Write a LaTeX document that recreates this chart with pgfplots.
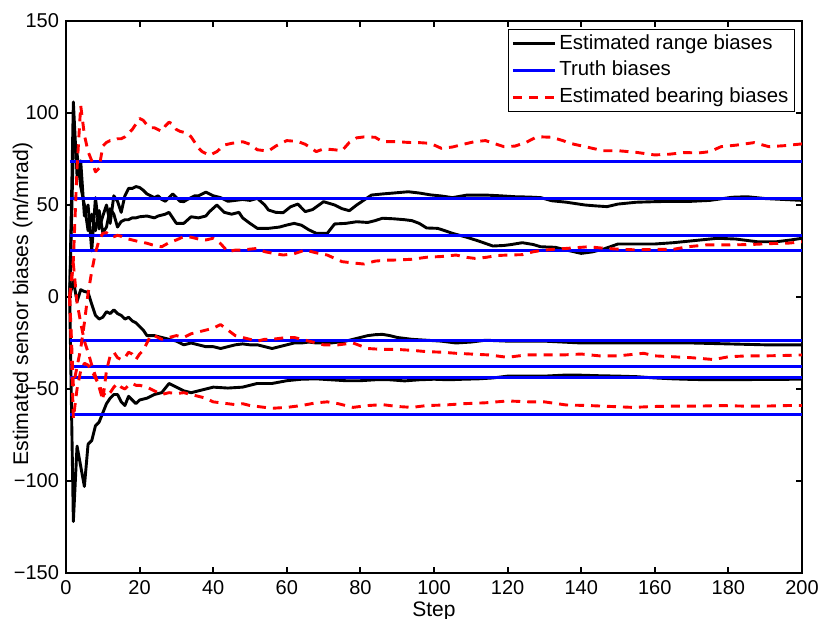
\documentclass[border=0pt]{standalone}
\usepackage{fontspec}
\setmainfont{Liberation Sans}
\usepackage{pgfplots}
\pgfplotsset{compat=1.18}

\definecolor{mred}{RGB}{255,0,0}
\definecolor{mblue}{RGB}{0,0,255}

\begin{document}
\begin{tikzpicture}
\begin{axis}[
  name=ax,
  width=368pt, height=276pt, scale only axis,
  xmin=0, xmax=200, ymin=-150, ymax=150,
  xtick={0,20,...,200},
  ytick={-150,-100,...,150},
  yticklabels={−150,−100,−50,0,50,100,150},
  tick align=inside,
  major tick length=3pt,
  axis line style={line width=1.35pt},
  every tick/.style={line width=1pt, black},
  tick label style={font=\fontsize{10}{12}\selectfont},
  /pgf/number format/assume math mode=true,
  xlabel={Step},
  ylabel={Estimated sensor biases (m/mrad)},
  xlabel style={font=\fontsize{10.5}{12}\selectfont, at={(axis description cs:0.5,0)}, anchor=north, yshift=-10.8pt},
  ylabel style={font=\fontsize{10.6}{12}\selectfont, at={(axis description cs:-0.059,0.487)}, anchor=center},
  legend style={at={(axis description cs:1,1)}, anchor=north east, xshift=-3.5pt, yshift=-4pt,
    draw=black, line width=0.6pt, font=\fontsize{10.2}{12}\selectfont,
    inner xsep=1.5pt, inner ysep=0.5pt, row sep=0pt,
    nodes={inner xsep=1.5pt, inner ysep=2pt, text height=7.4pt, text depth=1.9pt}},
  legend cell align=left,
  legend image code/.code={\draw[#1] (0pt,0pt) -- (21pt,0pt);},
  every axis plot/.append style={line width=1.45pt, line join=round},
]

% estimated range biases
\addplot[black] coordinates {
(1,0) (2,106) (3,66) (4,74) (5,44) (6,50) (7,25) (8,54) (9,37) (10,44) (11,50) (12,40) (13,55) (14,52) (15,46) (16,55) (17,59) (18,59) (19,60) (20,59.5) (21,58) (22,56) (23,55) (24,54) (25,55) (26,53) (27,52) (28,54) (29,56) (30,54) (31,52) (32,51.8) (33,53) (34,54) (35,55) (36,55) (37,56) (38,57) (39,56) (40,55) (42,54) (44,52) (46,52.5) (48,53) (50,52.5) (52,53.6) (54,50) (55,47.3) (57,46) (59,45.8) (61,49) (63,50.5) (65,46.4) (67,47.5) (70,51.8) (73,50) (75,48) (77,46.9) (79,50) (81,52.7) (83,55.4) (86,56) (89,56.5) (93,57.2) (96,56.5) (99,55.5) (102,54.9) (105,54) (109,55.4) (114,55.4) (118,55) (122,54.5) (126,54.3) (129,54) (132,52.3) (136,51.5) (141,50) (144,49.5) (147,49.1) (150,50.5) (155,51.5) (160,51.8) (165,52) (170,52) (175,52.5) (181,54.2) (185,54.5) (190,53.5) (195,53) (200,52.5)
};
\addlegendentry{Estimated range biases}
\addplot[black, forget plot] coordinates {
(1,0) (2,82) (3,78) (4,60) (5,50) (6,36) (7,45) (8,36) (9,47) (10,35) (11,38) (12,48) (13,45) (14,38) (15,41) (16,42) (17,42) (18,43) (19,43) (20,43.6) (22,44) (24,43) (25,44) (27,45) (28,46) (30,40) (32,40) (34,43.6) (36,43) (38,44) (39,46.4) (41,50) (43,46) (45,45) (47,46) (48,43) (50,40) (52,37.3) (55,37.3) (58,38) (60,39.1) (62,40) (64,39) (66,36.5) (68,34.6) (71,34.6) (73,39.7) (76,40) (79,40.9) (82,40.5) (84,41.5) (86,42.8) (89,42.5) (92,42) (94,41.5) (96,40) (98,37.5) (101,37.3) (103,36) (105,34.6) (107,33.5) (109,32.4) (112,30.5) (116,27.7) (119,28) (121,28.5) (124,29.5) (127,28.5) (129,27.3) (133,27) (136,25.5) (140,23.7) (143,24.5) (146,26) (150,28.8) (155,28.8) (160,28.8) (165,29.5) (170,30.5) (177,31.9) (182,31.5) (188,30) (193,30) (197,31) (200,31.9)
};
\addplot[black, forget plot] coordinates {
(1,0) (2,9) (3,-2.5) (4,4) (5,3) (6,2.5) (7,-4) (8,-10) (9,-12) (10,-11) (11,-8) (12,-9) (13,-7) (14,-9) (15,-10) (16,-12) (17,-11) (18,-13) (19,-14) (20,-16) (21,-18) (22,-21) (24,-21) (26,-22) (28,-23) (30,-24) (32,-26) (34,-25) (36,-26) (38,-27) (40,-27) (42,-28) (44,-27) (46,-26) (48,-25.5) (50,-26) (52,-26) (54,-27) (56,-28) (58,-27) (60,-26) (62,-25) (64,-25) (66,-24.5) (68,-25) (70,-25) (72,-25) (74,-24.5) (76,-24) (78,-23) (80,-22) (82,-21) (84,-20.5) (86,-20.3) (88,-21) (90,-22) (92,-22.5) (94,-23) (98,-23.5) (102,-24) (106,-25) (110,-24.5) (114,-23.5) (120,-24) (130,-24) (140,-25) (150,-25) (160,-25) (170,-25) (180,-25.5) (190,-26) (200,-26)
};
\addplot[black, forget plot] coordinates {
(1,0) (2,-122) (3,-81) (4,-92) (5,-103) (6,-80) (7,-78) (8,-70) (9,-68) (10,-63) (11,-58) (12,-55) (13,-53) (14,-53) (15,-57) (16,-59) (17,-54) (18,-56) (19,-58) (20,-56) (22,-55) (24,-53) (26,-52) (28,-47) (30,-49) (32,-51) (34,-52) (36,-51) (38,-50) (40,-49) (44,-49.5) (48,-49) (52,-47) (56,-47) (60,-45.5) (64,-44.7) (68,-44.5) (72,-45) (76,-45.5) (80,-45.5) (84,-45) (88,-45) (92,-45.6) (96,-45) (100,-44.7) (104,-45) (108,-44.7) (112,-44.5) (116,-44) (120,-43) (125,-43) (130,-43) (135,-42.5) (140,-42.5) (145,-42.8) (150,-43) (155,-43.3) (160,-44) (165,-44.5) (170,-44.8) (175,-45) (180,-45) (190,-44.8) (200,-44.7)
};

% truth biases
\addplot[mblue] coordinates {(1,73.5) (200,73.5)};
\addlegendentry{Truth biases}
\addplot[mblue, forget plot] coordinates {(1,53.3) (200,53.3)};
\addplot[mblue, forget plot] coordinates {(1,33.5) (200,33.5)};
\addplot[mblue, forget plot] coordinates {(1,25.2) (200,25.2)};
\addplot[mblue, forget plot] coordinates {(1,-23.8) (200,-23.8)};
\addplot[mblue, forget plot] coordinates {(1,-37.7) (200,-37.7)};
\addplot[mblue, forget plot] coordinates {(1,-43.6) (200,-43.6)};
\addplot[mblue, forget plot] coordinates {(1,-64) (200,-64)};

% estimated bearing biases
\addplot[mred, dash pattern=on 4.5pt off 3.5pt] coordinates {
(1,0) (2,20) (3,70) (4,104) (5,88) (6,79) (7,74) (8,68) (9,70) (10,82) (11,84) (12,85) (13,85) (14,86) (15,86) (16,87) (17,89) (18,91) (19,94) (20,97) (21,96) (22,93.5) (23,92) (24,92) (25,91) (26,90) (27,93) (28,95) (29,94) (30,91) (31,90) (33,89) (34,87) (35,84) (36,81) (37,79) (39,77) (41,79) (43,82.6) (45,83.5) (48,84.4) (50,83) (52,80) (55,79.3) (57,82) (60,85) (63,84.5) (65,83) (68,79) (70,80.5) (73,80) (75,79.5) (77,84) (79,86.5) (81,87) (84,86.8) (86,84.4) (90,84.4) (93,84) (96,83.9) (99,83.5) (102,80.8) (105,81.5) (108,83) (111,84.4) (114,85) (117,83) (119,81.7) (122,82) (125,84) (128,87.1) (132,86.8) (135,85) (137,83.5) (141,81.7) (146,79.5) (150,79.5) (155,78.6) (160,77.2) (164,77.6) (168,78.5) (172,78.3) (175,79) (178,81.7) (182,82.5) (187,83.9) (191,81.7) (195,82.2) (200,83.2)
};
\addlegendentry{Estimated bearing biases}
\addplot[mred, dash pattern=on 4.5pt off 3.5pt, forget plot] coordinates {
(1,0) (2,-48) (3,-38) (4,-28) (5,-14) (6,2) (7,14) (8,24) (9,31) (10,34.6) (11,35) (12,33) (13,32.8) (14,33.5) (15,33) (16,32) (17,31.5) (18,31) (19,30.5) (20,30) (22,29.2) (24,28) (26,27.3) (28,29.5) (30,31) (32,32.8) (34,32.5) (36,31.5) (38,31) (40,31.9) (42,29) (44,24.6) (46,25.5) (48,25.5) (50,26) (52,26.4) (54,24.6) (57,23.5) (59,22.8) (62,23.5) (65,25.5) (68,24) (71,22.8) (73,21) (75,19.2) (78,18.5) (81,17.9) (84,19.5) (87,20) (90,20.1) (94,20.5) (98,21.6) (102,22) (106,22.8) (109,21.5) (111,21) (114,21.5) (117,22.5) (120,22.8) (124,23) (127,24.6) (130,25.5) (133,26) (136,26.4) (142,27.3) (146,26.5) (150,26) (155,25.6) (160,25.9) (165,25.9) (169,27.3) (174,28.3) (180,28.3) (186,28.5) (191,29) (196,29.2) (200,30)
};
\addplot[mred, dash pattern=on 4.5pt off 3.5pt, forget plot] coordinates {
(1,0) (2,18) (3,-3) (4,-14) (5,-24) (6,-30) (7,-37) (8,-43) (9,-49) (10,-56) (11,-40) (12,-32) (13,-30) (14,-33) (15,-34) (16,-33) (17,-30) (18,-31) (19,-34) (20,-31) (21,-29) (22,-25) (23,-21) (24,-21) (26,-23) (28,-22) (30,-21) (32,-22) (34,-20) (36,-19) (38,-18) (40,-17) (42,-15) (44,-18) (46,-21) (48,-22) (50,-23) (52,-24) (54,-23) (56,-23) (58,-22.5) (60,-22) (62,-22) (66,-24) (70,-26) (74,-26) (78,-25) (82,-28) (86,-28.5) (90,-28.5) (94,-29) (98,-29.7) (102,-30) (106,-30.6) (110,-31) (115,-31.5) (120,-32.8) (125,-31.5) (130,-31.5) (135,-31.5) (140,-31) (145,-32) (150,-32) (155,-31) (157,-30.6) (160,-32) (165,-32.5) (170,-33) (176,-34) (180,-32.5) (185,-32) (190,-32) (195,-31.8) (200,-31.5)
};
\addplot[mred, dash pattern=on 4.5pt off 3.5pt, forget plot] coordinates {
(1,0) (2,-66) (3,-50) (4,-40) (5,-36) (6,-37) (7,-40) (8,-44) (9,-48) (10,-52) (11,-54) (12,-52) (13,-49) (14,-47) (15,-49) (16,-50) (17,-48) (18,-47) (19,-48) (20,-48) (22,-49) (24,-51) (26,-53) (28,-52) (30,-52.5) (32,-52) (34,-53) (36,-54) (38,-55) (40,-57) (42,-57.5) (44,-58) (46,-58.5) (48,-58) (50,-59) (52,-59.5) (56,-60.5) (60,-60) (64,-59) (68,-57.5) (71,-57) (74,-58) (78,-60) (82,-59) (86,-58.5) (90,-59.5) (94,-60) (98,-59) (103,-58.7) (108,-58) (114,-57.5) (120,-56.5) (126,-57) (130,-57) (136,-58.7) (142,-59) (148,-59.5) (154,-60) (160,-59.5) (166,-59.3) (172,-59.3) (178,-59) (184,-59.3) (190,-59.3) (196,-59) (200,-59)
};
\end{axis}
\pgfresetboundingbox
\path ([shift={(-33pt,-23pt)}]ax.south west) rectangle ([shift={(9.5pt,10.5pt)}]ax.north east);
\end{tikzpicture}
\end{document}
